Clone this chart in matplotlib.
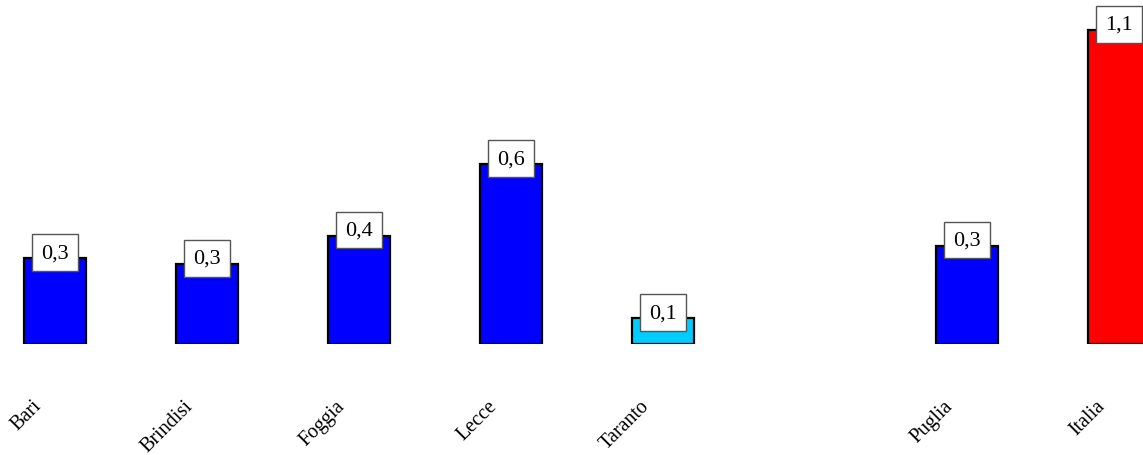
import matplotlib
matplotlib.use('Agg')
import matplotlib.pyplot as plt
import matplotlib.transforms as mtransforms

plt.rcParams['font.family'] = ['Liberation Serif', 'DejaVu Serif']

categories = ['Bari', 'Brindisi', 'Foggia', 'Lecce', 'Taranto', '', 'Puglia', 'Italia']
values = [0.30, 0.28, 0.38, 0.63, 0.09, None, 0.345, 1.10]
colors = ['#0000FF', '#0000FF', '#0000FF', '#0000FF', '#00CCFF', None, '#0000FF', '#FF0000']

fig = plt.figure(figsize=(11.43, 4.56), dpi=100)
ax = fig.add_axes([0, 111 / 456, 1, 345 / 456])

for i, (v, c) in enumerate(zip(values, colors)):
    if v is None:
        continue
    ax.bar(i, v, width=0.41, color=c, edgecolor='black', linewidth=1.6, zorder=2)
    lbl = ('%.1f' % v).replace('.', ',')
    ax.annotate(lbl, (i, v), xytext=(0, 4), textcoords='offset points',
                ha='center', va='center', fontsize=16, zorder=3,
                bbox=dict(boxstyle='square,pad=0.4', fc='white', ec='#555555', lw=1))

trans = mtransforms.blended_transform_factory(ax.transData, ax.transAxes)
for i, name in enumerate(categories):
    if not name:
        continue
    ax.text(i - 0.11, -0.17, name, transform=trans, rotation=45,
            rotation_mode='anchor', ha='right', va='center', fontsize=14.5)

ax.set_xlim(-55 / 152, -55 / 152 + 1143 / 152)
ax.set_ylim(0, 345 / 285.5)
ax.axis('off')

plt.savefig('out.png', dpi=100)
plt.close()
